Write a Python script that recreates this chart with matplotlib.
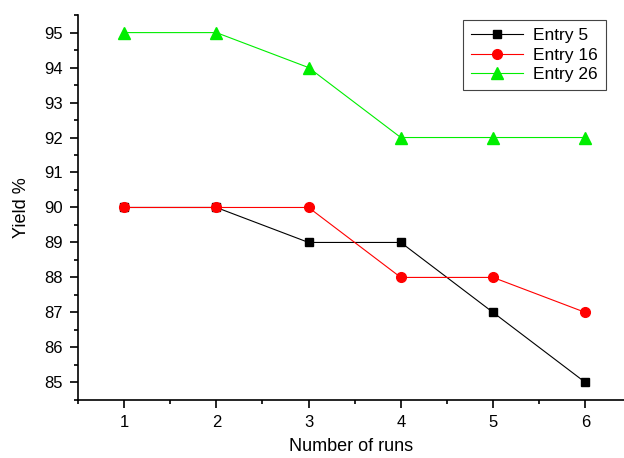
import numpy as np
import matplotlib
matplotlib.use("Agg")
import matplotlib.pyplot as plt
from matplotlib.ticker import MultipleLocator

runs = [1, 2, 3, 4, 5, 6]
entry5 = [90, 90, 89, 89, 87, 85]
entry16 = [90, 90, 90, 88, 88, 87]
entry26 = [95, 95, 94, 92, 92, 92]

plt.rcParams['font.family'] = ['Liberation Sans', 'DejaVu Sans']

fig = plt.figure(figsize=(6.24, 4.58), dpi=100)
ax = fig.add_axes([0.125, 0.127, 0.875, 0.84])

ax.plot(runs, entry5, color='black', lw=0.8, marker='s', ms=6, label='Entry 5')
ax.plot(runs, entry16, color='red', lw=0.8, marker='o', ms=7, label='Entry 16')
ax.plot(runs, entry26, color='#00ee00', lw=0.8, marker='^', ms=8, label='Entry 26')

ax.set_xlim(0.5, 6.42)
ax.set_ylim(84.5, 95.5)
ax.xaxis.set_major_locator(MultipleLocator(1))
ax.xaxis.set_minor_locator(MultipleLocator(0.5))
ax.yaxis.set_major_locator(MultipleLocator(1))
ax.yaxis.set_minor_locator(MultipleLocator(0.5))
ax.tick_params(which='major', direction='out', length=6, width=1.2, labelsize=12, pad=5)
ax.tick_params(which='minor', direction='out', length=3, width=1.2)
for s in ['top', 'right']:
    ax.spines[s].set_visible(False)
for s in ['left', 'bottom']:
    ax.spines[s].set_linewidth(1.2)

ax.set_xlabel('Number of runs', fontsize=13, labelpad=6)
ax.set_ylabel('Yield %', fontsize=13, labelpad=10)

leg = ax.legend(loc='upper right', bbox_to_anchor=(0.976, 1.0), fontsize=12.5,
                fancybox=False, edgecolor='#444444', framealpha=1, borderaxespad=0.3,
                handlelength=3, borderpad=0.45, labelspacing=0.25, handletextpad=0.6)
leg.get_frame().set_linewidth(0.8)

fig.savefig('out.png', dpi=100)
